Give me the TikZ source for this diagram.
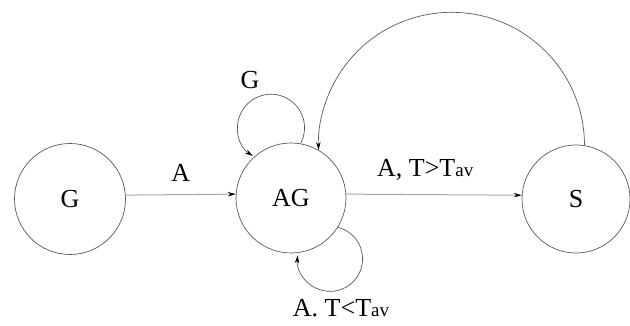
\documentclass[tikz,border=0pt]{standalone}
\usepackage{fontspec}
\setmainfont{Liberation Serif}
\usetikzlibrary{arrows.meta}
\definecolor{circgray}{gray}{0.35}
\definecolor{linegreen}{rgb}{0.62,0.68,0.62}
\newcommand{\sm}[1]{{\fontsize{19}{19}\selectfont #1}}
\tikzset{
  x=1pt,y=1pt,
  state/.style={circle,draw=circgray,line width=0.7pt,minimum size=111pt,inner sep=0pt,font=\fontsize{26}{26}\selectfont},
  lbl/.style={font=\fontsize{26}{26}\selectfont,inner sep=0pt},
  tip/.style={-{Stealth[length=8pt,width=4.5pt,black]}},
  straight/.style={tip,draw=linegreen,line width=1pt},
  curved/.style={tip,draw=circgray,line width=0.7pt}
}
\begin{document}
\begin{tikzpicture}
\useasboundingbox (0,0) rectangle (630,326);
\node[state] (G) at (70,127) {G};
\node[state,minimum size=110pt] (AG) at (291,128) {AG};
\node[state,minimum size=108pt] (S) at (576,127) {S};
\draw[straight] (G.4) -- node[lbl,above=13pt] (la) {A} (AG.176);
\draw[straight] (AG.4) -- node[lbl,above=14pt,pos=0.45] (lb) {A, T>T\sm{av}} (S.176);
\draw[curved] (AG.80) arc[start angle=-28,end angle=237,radius=33.5];
\node[lbl] (lg) at (250,246) {G};
\draw[curved] (AG.-32) arc[start angle=76,end angle=-186,radius=32.5];
\node[lbl] (lc) at (341,18) {A. T<T\sm{av}};
\draw[curved] (S.81) arc[start angle=0,end angle=182,radius=133];
\end{tikzpicture}
\end{document}
